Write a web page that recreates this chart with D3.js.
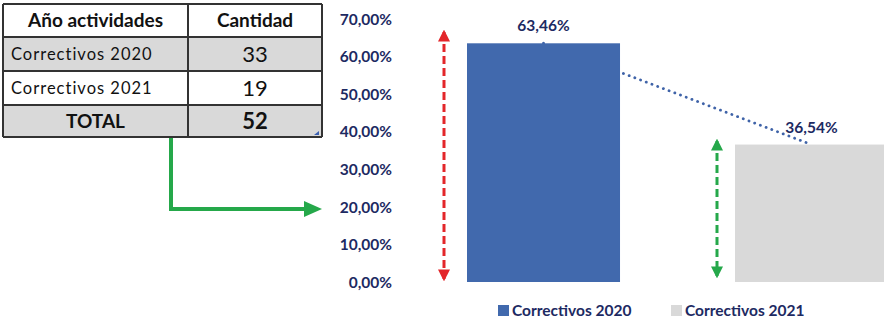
<!DOCTYPE html>
<html><head><meta charset="utf-8">
<script src="https://cdn.jsdelivr.net/npm/d3@7"></script>
<style>html,body{margin:0;padding:0;background:#fff;overflow:hidden}</style>
</head><body>
<svg id="c" width="884" height="322"></svg>
<script>
const categories = ["Correctivos 2020", "Correctivos 2021"];
const values = [0.6346, 0.3654];
const barColors = ["#4169ad", "#d9d9d9"];
const tickValues = [0, 0.1, 0.2, 0.3, 0.4, 0.5, 0.6, 0.7];
const tableHeader = ["Año actividades", "Cantidad"];
const tableRows = [["Correctivos 2020", 33], ["Correctivos 2021", 19]];
const tableTotal = ["TOTAL", 52];

const svg = d3.select("#c");
const FONT = "Lato, 'Open Sans', sans-serif";
const navy = "#1d2a62";
const loc = d3.formatLocale({decimal: ",", thousands: ".", grouping: [3], currency: ["", "€"]});
const pct = loc.format(".2%");

const x = d3.scaleBand().domain(categories).range([467, 888]).paddingInner(0.429).paddingOuter(0);
const y = d3.scaleLinear().domain([0, 0.7]).range([282, 18.7]);

const defs = svg.append("defs");
function marker(id, color) {
  defs.append("marker").attr("id", id).attr("viewBox", "0 0 10 10").attr("refX", 8).attr("refY", 5)
    .attr("markerWidth", 4).attr("markerHeight", 4).attr("markerUnits", "strokeWidth").attr("orient", "auto-start-reverse")
    .append("path").attr("d", "M0,0 L10,5 L0,10 Z").attr("fill", color);
}
marker("redA", "#e3262a");
marker("greenA", "#25a84a");

// trend dotted line (behind bars)
const pts = categories.map((c, i) => [x(c) + x.bandwidth() / 2, y(values[i])]);
svg.append("path").attr("d", d3.line()(pts)).attr("fill", "none")
  .attr("stroke", "#3f63a8").attr("stroke-width", 2.8).attr("stroke-dasharray", "0.1 6").attr("stroke-linecap", "round");

// bars
svg.selectAll("rect.bar").data(categories).join("rect").attr("class", "bar")
  .attr("x", d => x(d)).attr("width", x.bandwidth())
  .attr("y", (d, i) => y(values[i])).attr("height", (d, i) => y(0) - y(values[i]))
  .attr("fill", (d, i) => barColors[i]);

// value labels
svg.selectAll("text.val").data(categories).join("text").attr("class", "val")
  .attr("x", d => x(d) + x.bandwidth() / 2).attr("y", (d, i) => y(values[i]) - 12)
  .attr("text-anchor", "middle").attr("font-family", FONT).attr("font-weight", "bold")
  .attr("font-size", 15.5).attr("fill", navy).text((d, i) => pct(values[i]));

// y axis
const ax = svg.append("g").attr("transform", "translate(392,0)")
  .call(d3.axisLeft(y).tickValues(tickValues).tickFormat(pct).tickSize(0).tickPadding(0));
ax.select(".domain").remove();
ax.selectAll("text").attr("font-family", FONT).attr("font-weight", "bold").attr("font-size", 15.5)
  .attr("fill", navy).attr("dy", "0.35em");

// red double arrow
svg.append("line").attr("x1", 444).attr("x2", 444).attr("y1", 32).attr("y2", 279)
  .attr("stroke", "#e3262a").attr("stroke-width", 3).attr("stroke-dasharray", "8 4")
  .attr("marker-start", "url(#redA)").attr("marker-end", "url(#redA)");
// green double arrow
svg.append("line").attr("x1", 717).attr("x2", 717).attr("y1", 141).attr("y2", 276)
  .attr("stroke", "#25a84a").attr("stroke-width", 3).attr("stroke-dasharray", "8 4")
  .attr("marker-start", "url(#greenA)").attr("marker-end", "url(#greenA)");

// legend
const legX = [498, 671];
categories.forEach((c, i) => {
  svg.append("rect").attr("x", legX[i]).attr("y", 305).attr("width", 11).attr("height", 11).attr("fill", barColors[i]);
  svg.append("text").attr("x", legX[i] + 14).attr("y", 316).attr("font-family", FONT).attr("font-weight", "bold")
    .attr("font-size", 15.5).attr("fill", navy).text(c);
});

// table
const tX = [3, 188, 322];
const tY = [4, 37, 71, 105, 137];
const rowFill = ["#ffffff", "#d9d9d9", "#ffffff", "#d9d9d9"];
const tbl = svg.append("g");
rowFill.forEach((f, r) => {
  tbl.append("rect").attr("x", tX[0]).attr("y", tY[r]).attr("width", tX[2] - tX[0]).attr("height", tY[r + 1] - tY[r]).attr("fill", f);
});
const allRows = [tableHeader, ...tableRows, tableTotal];
allRows.forEach((row, r) => {
  const cy = (tY[r] + tY[r + 1]) / 2;
  const bold = r === 0 || r === allRows.length - 1;
  const left = !bold;
  tbl.append("text").attr("x", left ? 11 : (tX[0] + tX[1]) / 2).attr("y", cy).attr("dy", "0.36em")
    .attr("text-anchor", left ? "start" : "middle").attr("font-family", FONT)
    .attr("font-weight", bold ? "bold" : "normal").attr("font-size", bold ? 19 : 16.5)
    .attr("letter-spacing", left ? 1 : 0).attr("fill", "#111").text(row[0]);
  tbl.append("text").attr("x", (tX[1] + tX[2]) / 2).attr("y", cy).attr("dy", "0.36em")
    .attr("text-anchor", "middle").attr("font-family", FONT)
    .attr("font-weight", bold ? "bold" : "normal").attr("font-size", r === 0 ? 19 : 22)
    .attr("fill", "#111").text(row[1]);
});
tY.forEach(yy => tbl.append("line").attr("x1", tX[0]).attr("x2", tX[2]).attr("y1", yy).attr("y2", yy).attr("stroke", "#333").attr("stroke-width", 2));
tX.forEach(xx => tbl.append("line").attr("x1", xx).attr("x2", xx).attr("y1", tY[0]).attr("y2", tY[4]).attr("stroke", "#333").attr("stroke-width", 2));
tbl.append("path").attr("d", "M319,131 L319,135 L314,135 Z").attr("fill", "#3a5fb0");

// green L arrow
svg.append("path").attr("d", "M171,138 L171,209 L306,209").attr("fill", "none")
  .attr("stroke", "#25a84a").attr("stroke-width", 4);
svg.append("path").attr("d", "M304,201 L322,209 L304,217 Z").attr("fill", "#25a84a");
</script>
</body></html>
